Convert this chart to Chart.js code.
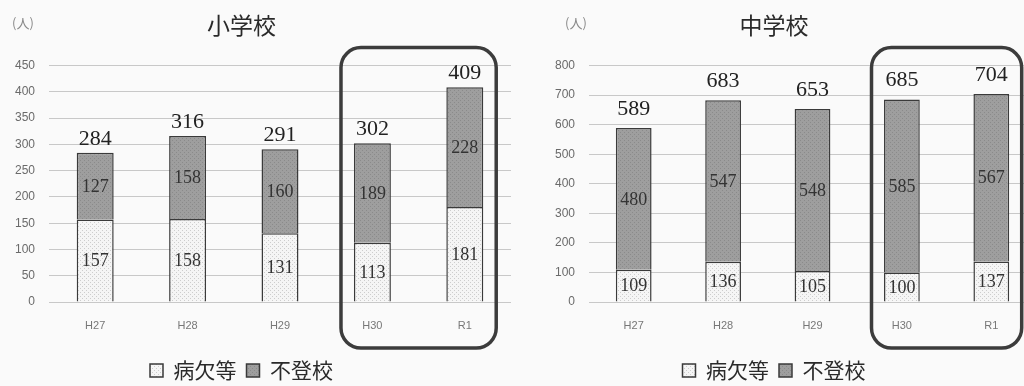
<!DOCTYPE html>
<html>
<head>
<meta charset="utf-8">
<script src="https://cdn.jsdelivr.net/npm/chart.js@4.4.1/dist/chart.umd.min.js"></script>
<style>
    html, body {
        margin: 0;
        padding: 0;
        background: #fafafa;
        width: 1024px;
        height: 386px;
        overflow: hidden;
    }
    .box {
        position: absolute;
        top: 0;
        height: 386px;
    }
    #wrapLeft { left: -28px; width: 540px; }
    #wrapRight { left: 512px; width: 526px; }
</style>
</head>
<body>
<div class="box" id="wrapLeft"><canvas id="chartLeft" width="540" height="386"></canvas></div>
<div class="box" id="wrapRight"><canvas id="chartRight" width="526" height="386"></canvas></div>

<script>
// data
const years = ["H27", "H28", "H29", "H30", "R1"];
const highlightYears = ["H30", "R1"];
const seriesNames = ["病欠等", "不登校"];

const elemSick = [157, 158, 131, 113, 181];
const elemAbsent = [127, 158, 160, 189, 228];
const elemTicks = [0, 50, 100, 150, 200, 250, 300, 350, 400, 450];

const juniorSick = [109, 136, 105, 100, 137];
const juniorAbsent = [480, 547, 548, 585, 567];
const juniorTicks = [0, 100, 200, 300, 400, 500, 600, 700, 800];

const serifFont = "'Liberation Serif', 'DejaVu Serif', serif";
const sansFont = "'Liberation Sans Narrow', 'Liberation Sans', 'DejaVu Sans', sans-serif";
const cjkFont = "'Noto Sans CJK JP', 'Noto Sans', sans-serif";

function makePattern(bg, dot) {
    const c = document.createElement("canvas");
    c.width = 4;
    c.height = 4;
    const g = c.getContext("2d");
    g.fillStyle = bg;
    g.fillRect(0, 0, 4, 4);
    g.fillStyle = dot;
    g.fillRect(0, 0, 1, 1);
    g.fillRect(2, 2, 1, 1);
    return g.createPattern(c, "repeat");
}

const sickFill = makePattern("#f5f5f5", "#cdcdcd");
const absentFill = makePattern("#9e9e9e", "#8a8a8a");

// numbers inside the segments, totals on top, unit label and highlight frame
const extrasPlugin = {
    id: "extras",
    afterDatasetsDraw(chart, args, opts) {
        const ctx = chart.ctx;
        const x = chart.scales.x;
        const y = chart.scales.y;
        const area = chart.chartArea;
        ctx.save();
        ctx.textAlign = "center";
        ctx.textBaseline = "middle";
        ctx.fillStyle = "#333";
        ctx.font = "18px " + serifFont;
        chart.data.datasets.forEach((ds, di) => {
            const meta = chart.getDatasetMeta(di);
            meta.data.forEach((bar, i) => {
                const mid = (bar.y + bar.base) / 2;
                ctx.fillText(ds.data[i], bar.x, mid + 1);
            });
        });
        ctx.font = "22px " + serifFont;
        ctx.fillStyle = "#222";
        chart.data.labels.forEach((lab, i) => {
            let total = 0;
            chart.data.datasets.forEach((ds) => (total += ds.data[i]));
            ctx.fillText(total, x.getPixelForValue(i), y.getPixelForValue(total) - opts.totalGap);
        });

        ctx.font = "13px " + cjkFont;
        ctx.fillStyle = "#8a8a8a";
        ctx.fillText("(人)", opts.unitX, opts.unitY);

        // frame around the latest two years
        const i0 = chart.data.labels.indexOf(highlightYears[0]);
        const i1 = chart.data.labels.indexOf(highlightYears[highlightYears.length - 1]);
        const step = x.getPixelForValue(1) - x.getPixelForValue(0);
        const left = x.getPixelForValue(i0) - step * 0.34;
        const right = Math.min(x.getPixelForValue(i1) + step * 0.34, chart.width - 4 - opts.clipRight);
        const top = area.top - 18;
        const bottom = area.bottom + 46;
        const r = 20;
        ctx.beginPath();
        ctx.moveTo(left + r, top);
        ctx.arcTo(right, top, right, bottom, r);
        ctx.arcTo(right, bottom, left, bottom, r);
        ctx.arcTo(left, bottom, left, top, r);
        ctx.arcTo(left, top, right, top, r);
        ctx.closePath();
        ctx.lineWidth = 3.5;
        ctx.strokeStyle = "#3c3c3c";
        ctx.stroke();
        ctx.restore();
    },
};

function buildChart(id, title, sick, absent, ticks, unitX, clipRight, totalGap) {
    const ctx = document.getElementById(id).getContext("2d");
    return new Chart(ctx, {
        type: "bar",
        data: {
            labels: years,
            datasets: [
                {
                    label: seriesNames[0],
                    data: sick,
                    backgroundColor: sickFill,
                    borderColor: "#3a3a3a",
                    borderWidth: 1.5,
                    barPercentage: 0.4,
                    categoryPercentage: 1,
                },
                {
                    label: seriesNames[1],
                    data: absent,
                    backgroundColor: absentFill,
                    borderColor: "#3a3a3a",
                    borderWidth: 1.5,
                    barPercentage: 0.4,
                    categoryPercentage: 1,
                },
            ],
        },
        options: {
            responsive: false,
            animation: false,
            events: [],
            layout: {
                padding: { top: 0, right: clipRight, bottom: -5, left: 0 },
            },
            plugins: {
                title: {
                    display: true,
                    text: title,
                    color: "#2a2a2a",
                    font: { family: cjkFont, size: 23, weight: "normal" },
                    padding: { top: 11, bottom: 27 },
                },
                legend: {
                    position: "bottom",
                    labels: {
                        color: "#2a2a2a",
                        font: { family: cjkFont, size: 21 },
                        boxWidth: 13,
                        boxHeight: 13,
                        padding: 10,
                    },
                },
                tooltip: { enabled: false },
                extras: { unitX: unitX, unitY: 23, clipRight: clipRight, totalGap: totalGap },
            },
            scales: {
                x: {
                    stacked: true,
                    grid: { display: false, drawTicks: false },
                    border: { display: false },
                    ticks: {
                        color: "#777",
                        font: { family: sansFont, size: 11 },
                        padding: 17,
                    },
                    afterFit(scale) {
                        scale.height = 48;
                    },
                },
                y: {
                    stacked: true,
                    min: ticks[0],
                    max: ticks[ticks.length - 1],
                    afterBuildTicks(scale) {
                        scale.ticks = ticks.map((v) => ({ value: v }));
                    },
                    grid: { color: "#c8c8c8", drawTicks: false, lineWidth: 1 },
                    border: { display: false },
                    ticks: {
                        color: "#6a6a6a",
                        font: { family: sansFont, size: 12 },
                        padding: 14,
                    },
                    afterFit(scale) {
                        scale.width = 77;
                    },
                },
            },
        },
        plugins: [extrasPlugin],
    });
}

buildChart("chartLeft", "小学校", elemSick, elemAbsent, elemTicks, 51, 1, 14);
buildChart("chartRight", "中学校", juniorSick, juniorAbsent, juniorTicks, 64, 2, 19);
</script>
</body>
</html>
